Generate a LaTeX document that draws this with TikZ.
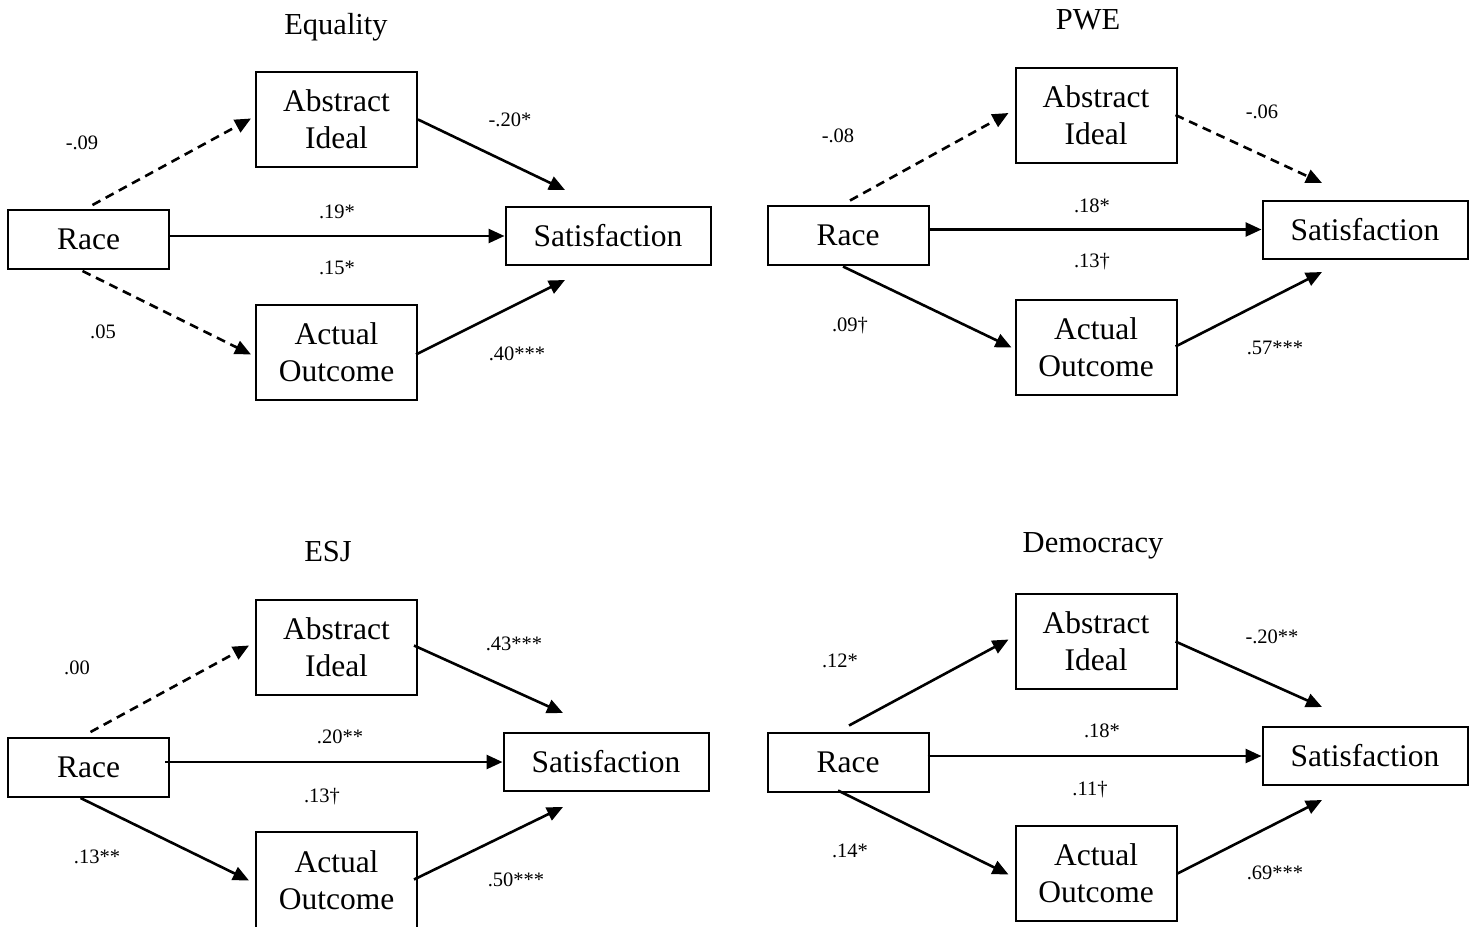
\documentclass[tikz,border=0pt]{standalone}
\usepackage{fontspec}
\setmainfont{Liberation Serif}
\usetikzlibrary{arrows.meta,calc}
\tikzset{
  box/.style={draw, line width=2pt, inner sep=0pt, align=center,
    font=\fontsize{31.5}{37}\selectfont},
  midbox/.style={box, minimum width=161pt, minimum height=95pt},
  racebox/.style={box, minimum width=161pt, minimum height=59pt},
  satbox/.style={box, minimum width=205pt, minimum height=58pt},
  ttl/.style={font=\fontsize{30.5}{35}\selectfont, inner sep=0pt},
  lbl/.style={font=\fontsize{20.5}{24}\selectfont, inner sep=0pt},
  conn/.style={line width=2.6pt, -{Triangle[length=16pt,width=14pt]}},
  dsh/.style={conn, dash pattern=on 9pt off 6pt}
}
\begin{document}
\begin{tikzpicture}[x=1pt,y=-1pt]
\clip (0,0) rectangle (1474,926);
\fill[white] (0,0) rectangle (1474,926);

% ---------------- Panel 1: Equality ----------------
\node[ttl] (t1) at (336,27) {Equality};
\node[midbox] (ab1) at (336.5,119.5) {Abstract\\Ideal};
\node[racebox] (r1) at (88.5,239.5) {Race};
\node[satbox] (s1) at (608,236) {Satisfaction};
\node[midbox] (ac1) at (336.5,352.5) {Actual\\Outcome};
\coordinate (s1t) at (565,190);
\coordinate (s1b) at (565,280);
\draw[dsh] ($(r1.north)+(4,-4)$) -- ($(ab1.west)+(-4,-1)$);
\draw[conn] (ab1.east) -- (s1t);
\draw[conn] (r1.east |- s1.west) -- (s1.west);
\draw[dsh] ($(r1.south)+(-6,1)$) -- ($(ac1.west)+(-4,2)$);
\draw[conn] ($(ac1.east)+(-2,2)$) -- (s1b);
\node[lbl] (l1a) at (82,143) {-.09};
\node[lbl] (l1b) at (510,120) {-.20*};
\node[lbl] (l1c) at (337,212) {.19*};
\node[lbl] (l1d) at (337,268) {.15*};
\node[lbl] (l1e) at (103,332) {.05};
\node[lbl] (l1f) at (517,354) {.40***};

% ---------------- Panel 2: PWE ----------------
\node[ttl] (t2) at (1088,20) {PWE};
\node[midbox] (ab2) at (1096,115) {Abstract\\Ideal};
\node[racebox] (r2) at (848,235) {Race};
\node[satbox] (s2) at (1365,229.5) {Satisfaction};
\node[midbox] (ac2) at (1096,347.5) {Actual\\Outcome};
\coordinate (s2t) at (1322,183);
\coordinate (s2b) at (1322,272);
\draw[dsh] ($(r2.north)+(2,-4)$) -- ($(ab2.west)+(-6,-2)$);
\draw[dsh] ($(ab2.east)+(-2,0)$) -- (s2t);
\draw[conn] (r2.east |- s2.west) -- (s2.west);
\draw[conn] ($(r2.south)+(-5,1)$) -- ($(ac2.west)+(-3,0)$);
\draw[conn] ($(ac2.east)+(-2,-1)$) -- (s2b);
\node[lbl] (l2a) at (838,136) {-.08};
\node[lbl] (l2b) at (1262,112) {-.06};
\node[lbl] (l2c) at (1092,206) {.18*};
\node[lbl] (l2d) at (1092,262) {.13†};
\node[lbl] (l2e) at (850,326) {.09†};
\node[lbl] (l2f) at (1275,348) {.57***};

% ---------------- Panel 3: ESJ ----------------
\node[ttl] (t3) at (328,552) {ESJ};
\node[midbox] (ab3) at (336.5,647.5) {Abstract\\Ideal};
\node[racebox] (r3) at (88.5,767.5) {Race};
\node[satbox] (s3) at (606,762) {Satisfaction};
\node[midbox, minimum height=97pt] (ac3) at (336.5,880.5) {Actual\\Outcome};
\coordinate (s3t) at (563,713);
\coordinate (s3b) at (563,807);
\draw[dsh] ($(r3.north)+(2,-5)$) -- ($(ab3.west)+(-6,-2)$);
\draw[conn] ($(ab3.east)+(-4,-2)$) -- (s3t);
\draw[conn] ($(r3.east |- s3.west)+(-5,0)$) -- (s3.west);
\draw[conn] ($(r3.south)+(-8,0)$) -- ($(ac3.west)+(-6,0)$);
\draw[conn] ($(ac3.east)+(-4,-1)$) -- (s3b);
\node[lbl] (l3a) at (77,668) {.00};
\node[lbl] (l3b) at (514,644) {.43***};
\node[lbl] (l3c) at (340,737) {.20**};
\node[lbl] (l3d) at (322,797) {.13†};
\node[lbl] (l3e) at (97,857) {.13**};
\node[lbl] (l3f) at (516,880) {.50***};

% ---------------- Panel 4: Democracy ----------------
\node[ttl] (t4) at (1093,546) {Democracy};
\node[midbox] (ab4) at (1096,641.5) {Abstract\\Ideal};
\node[racebox] (r4) at (848,762) {Race};
\node[satbox] (s4) at (1365,756) {Satisfaction};
\node[midbox] (ac4) at (1096,873.5) {Actual\\Outcome};
\coordinate (s4t) at (1322,707);
\coordinate (s4b) at (1322,800);
\draw[conn] ($(r4.north)+(1,-6)$) -- ($(ab4.west)+(-6,-2)$);
\draw[conn] ($(ab4.east)+(-2,0)$) -- (s4t);
\draw[conn] ($(r4.east |- s4.west)+(-2,0)$) -- (s4.west);
\draw[conn] ($(r4.south)+(-10,-2)$) -- ($(ac4.west)+(-6,1)$);
\draw[conn] (ac4.east) -- (s4b);
\node[lbl] (l4a) at (840,661) {.12*};
\node[lbl] (l4b) at (1272,637) {-.20**};
\node[lbl] (l4c) at (1102,731) {.18*};
\node[lbl] (l4d) at (1090,790) {.11†};
\node[lbl] (l4e) at (850,851) {.14*};
\node[lbl] (l4f) at (1275,873) {.69***};
\end{tikzpicture}
\end{document}
